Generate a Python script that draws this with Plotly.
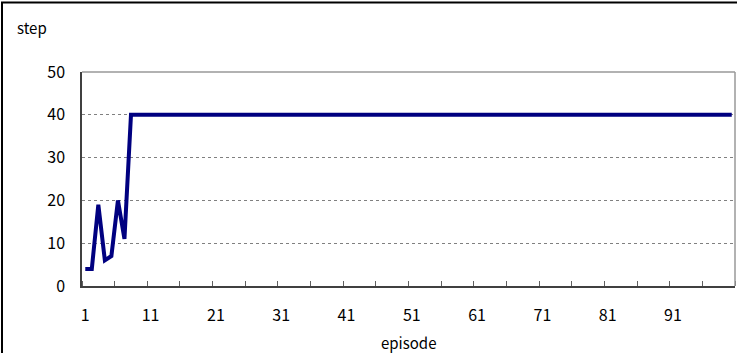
import plotly.graph_objects as go

episodes = list(range(1, 101))
steps = [4, 4, 19, 6, 7, 20, 11] + [40] * 93
x_tick_vals = [1, 11, 21, 31, 41, 51, 61, 71, 81, 91]
x_tick_text = [str(v) for v in x_tick_vals]
y_tick_vals = [0, 10, 20, 30, 40, 50]

W, H = 737, 353
L, R, T, B = 82, 2, 72, 67
pw, ph = W - L - R, H - T - B

def px_x(x):
    return (x - L) / pw

def px_y(y):
    return (H - B - y) / ph

font = "Noto Sans CJK JP, DejaVu Sans, sans-serif"

fig = go.Figure()
fig.add_trace(go.Scatter(x=episodes, y=steps, mode="lines",
                         line=dict(color="#000080", width=4), hoverinfo="skip"))

fig.update_layout(
    width=W, height=H,
    margin=dict(l=L, r=R, t=T, b=B, pad=0),
    paper_bgcolor="white", plot_bgcolor="white",
    showlegend=False,
    font=dict(family=font, color="black"),
    xaxis=dict(range=[0.5, 100.5], tickvals=x_tick_vals, ticktext=x_tick_text,
               ticks="", showgrid=False, zeroline=False,
               showline=True, linecolor="#404040", linewidth=1.5,
               tickfont=dict(size=16, family=font),
               ticklabelstandoff=14,
               minor=dict(tick0=0.5, dtick=5, ticks="inside", ticklen=5,
                          tickcolor="#606060", tickwidth=1, showgrid=False)),
    yaxis=dict(range=[0, 50], tickvals=y_tick_vals, ticks="",
               showgrid=True, gridcolor="#808080", griddash="dot", gridwidth=1,
               zeroline=False, showline=True, linecolor="#404040", linewidth=1.5,
               tickfont=dict(size=16, family=font),
               ticklabelstandoff=12),
)

# plot area top and right borders
fig.add_shape(type="line", xref="paper", yref="paper", x0=0, x1=1, y0=1, y1=1,
              line=dict(color="#999999", width=1.5))
fig.add_shape(type="line", xref="paper", yref="paper", x0=1, x1=1, y0=0, y1=1,
              line=dict(color="#999999", width=1.5))
# outer chart border
fig.add_shape(type="rect", xref="paper", yref="paper",
              x0=px_x(2), x1=px_x(745), y0=px_y(360), y1=px_y(2.5),
              line=dict(color="black", width=2), fillcolor="rgba(0,0,0,0)")

fig.add_annotation(text="step", xref="paper", yref="paper", x=px_x(15), y=px_y(28),
                   xanchor="left", yanchor="middle", showarrow=False,
                   font=dict(size=15, family=font))
fig.add_annotation(text="episode", xref="paper", yref="paper", x=px_x(408), y=px_y(342),
                   xanchor="center", yanchor="middle", showarrow=False,
                   font=dict(size=15, family=font))

fig.write_html("out.html", config={"displayModeBar": False},
               post_script="document.body.style.margin='0';document.body.style.padding='0';document.body.style.overflow='hidden';")
